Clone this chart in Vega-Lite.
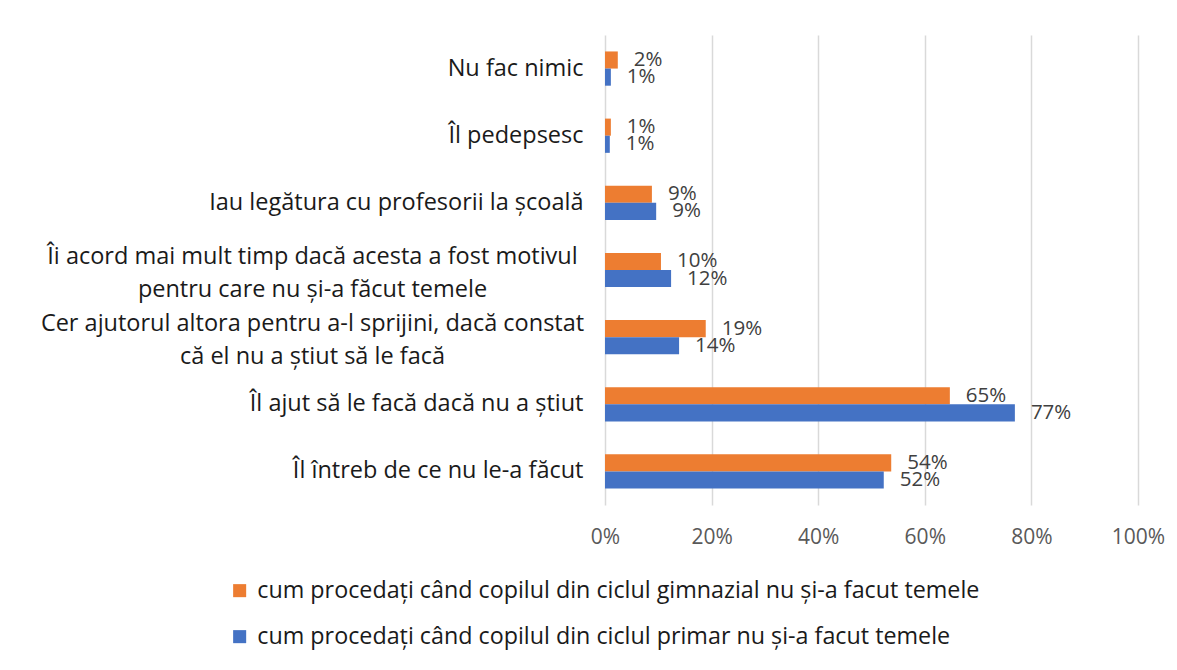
{
  "$schema": "https://vega.github.io/schema/vega-lite/v6.json",
  "autosize": {"type": "none"},
  "width": 533,
  "height": 470,
  "padding": {"left": 605, "top": 35, "right": 39, "bottom": 165},
  "background": "white",
  "config": {
    "view": {"stroke": null},
    "font": "Open Sans"
  },
  "data": {
    "values": [
      {"cat": "Nu fac nimic", "series": "cum procedați când copilul din ciclul gimnazial nu și-a facut temele", "v": 0.024, "lbl": "2%"},
      {"cat": "Nu fac nimic", "series": "cum procedați când copilul din ciclul primar nu și-a facut temele", "v": 0.011, "lbl": "1%"},
      {"cat": "Îl pedepsesc", "series": "cum procedați când copilul din ciclul gimnazial nu și-a facut temele", "v": 0.011, "lbl": "1%"},
      {"cat": "Îl pedepsesc", "series": "cum procedați când copilul din ciclul primar nu și-a facut temele", "v": 0.009, "lbl": "1%"},
      {"cat": "Iau legătura cu profesorii la școală", "series": "cum procedați când copilul din ciclul gimnazial nu și-a facut temele", "v": 0.088, "lbl": "9%"},
      {"cat": "Iau legătura cu profesorii la școală", "series": "cum procedați când copilul din ciclul primar nu și-a facut temele", "v": 0.096, "lbl": "9%"},
      {"cat": "Îi acord mai mult timp dacă acesta a fost motivul|pentru care nu și-a făcut temele", "series": "cum procedați când copilul din ciclul gimnazial nu și-a facut temele", "v": 0.105, "lbl": "10%"},
      {"cat": "Îi acord mai mult timp dacă acesta a fost motivul|pentru care nu și-a făcut temele", "series": "cum procedați când copilul din ciclul primar nu și-a facut temele", "v": 0.124, "lbl": "12%"},
      {"cat": "Cer ajutorul altora pentru a-l sprijini, dacă constat|că el nu a știut să le facă", "series": "cum procedați când copilul din ciclul gimnazial nu și-a facut temele", "v": 0.189, "lbl": "19%"},
      {"cat": "Cer ajutorul altora pentru a-l sprijini, dacă constat|că el nu a știut să le facă", "series": "cum procedați când copilul din ciclul primar nu și-a facut temele", "v": 0.139, "lbl": "14%"},
      {"cat": "Îl ajut să le facă dacă nu a știut", "series": "cum procedați când copilul din ciclul gimnazial nu și-a facut temele", "v": 0.647, "lbl": "65%"},
      {"cat": "Îl ajut să le facă dacă nu a știut", "series": "cum procedați când copilul din ciclul primar nu și-a facut temele", "v": 0.769, "lbl": "77%"},
      {"cat": "Îl întreb de ce nu le-a făcut", "series": "cum procedați când copilul din ciclul gimnazial nu și-a facut temele", "v": 0.537, "lbl": "54%"},
      {"cat": "Îl întreb de ce nu le-a făcut", "series": "cum procedați când copilul din ciclul primar nu și-a facut temele", "v": 0.523, "lbl": "52%"}
    ]
  },
  "encoding": {
    "y": {
      "field": "cat",
      "type": "nominal",
      "sort": null,
      "scale": {"paddingInner": 0.49, "paddingOuter": 0.245},
      "axis": {
        "title": null,
        "domain": false,
        "ticks": false,
        "labelPadding": {"condition": {"test": "indexof(datum.value, '|') >= 0", "value": 293}, "value": 22},
        "labelAlign": {"condition": {"test": "indexof(datum.value, '|') >= 0", "value": "center"}, "value": "right"},
        "labelOffset": {"condition": {"test": "indexof(datum.value, '|') >= 0", "value": -13}, "value": 0},
        "labelFontSize": 23.5,
        "labelColor": "#1a1a1a",
        "labelFont": "Open Sans",
        "labelLimit": 700,
        "labelLineHeight": 33,
        "labelExpr": "split(datum.label, '|')"
      }
    },
    "yOffset": {
      "field": "series",
      "type": "nominal",
      "sort": [
        "cum procedați când copilul din ciclul gimnazial nu și-a facut temele",
        "cum procedați când copilul din ciclul primar nu și-a facut temele"
      ]
    },
    "x": {
      "field": "v",
      "type": "quantitative",
      "scale": {"domain": [0, 1], "nice": false},
      "axis": {
        "title": null,
        "format": ".0%",
        "values": [0, 0.2, 0.4, 0.6, 0.8, 1],
        "domain": false,
        "ticks": false,
        "grid": true,
        "gridColor": "#d9d9d9",
        "gridWidth": 1.5,
        "labelFlush": false,
        "labelOverlap": false,
        "labelPadding": 21,
        "labelFontSize": 21,
        "labelColor": "#595959",
        "labelFont": "Open Sans"
      }
    }
  },
  "layer": [
    {
      "mark": {"type": "bar"},
      "encoding": {
        "color": {
          "field": "series",
          "type": "nominal",
          "sort": [
            "cum procedați când copilul din ciclul gimnazial nu și-a facut temele",
            "cum procedați când copilul din ciclul primar nu și-a facut temele"
          ],
          "scale": {"range": ["#ED7D31", "#4472C4"]},
          "legend": {
            "title": null,
            "orient": "none",
            "legendX": -377,
            "legendY": 544,
            "direction": "vertical",
            "symbolType": "square",
            "symbolSize": 170,
            "symbolStrokeWidth": 0,
            "labelFontSize": 23.3,
            "labelColor": "#1a1a1a",
            "labelFont": "Open Sans",
            "labelLimit": 900,
            "rowPadding": 22,
            "labelOffset": 6
          }
        }
      }
    },
    {
      "mark": {"type": "text", "align": "left", "baseline": "middle", "dx": 16, "fontSize": 20.5, "color": "#404040", "font": "Open Sans"},
      "encoding": {
        "text": {"field": "lbl"}
      }
    }
  ]
}
